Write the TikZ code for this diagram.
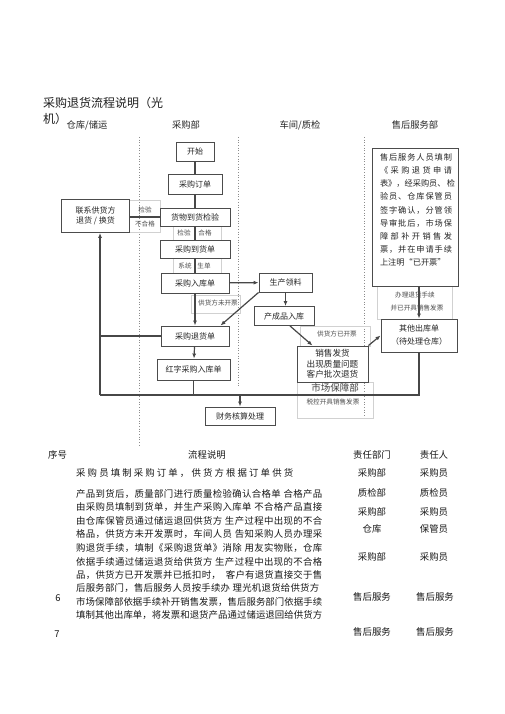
\documentclass[tikz,border=0pt]{standalone}
\usepackage{fontspec}
\setmainfont{Noto Sans CJK SC}
\usetikzlibrary{arrows.meta}
\makeatletter
\def\spr@aux#1{\ifx#1\relax\else#1\hfil\expandafter\spr@aux\fi}
\newcommand\spreadto[2]{\makebox[#1][s]{\spr@aux#2\relax\unskip}}
\makeatother
\begin{document}
\begin{tikzpicture}[x=1pt,y=-1pt,
  box/.style={draw=black!70, line width=0.9pt, fill=white, text=black!85, font=\fontsize{8}{10}\selectfont, align=center, inner sep=1pt},
  lbox/.style={draw=black!18, line width=0.5pt},
  lbl/.style={text=black!70, font=\fontsize{6.6}{8}\selectfont, inner sep=0.5pt},
  conn/.style={draw=black!72, line width=1.2pt},
  vconn/.style={draw=black!72, line width=1.6pt},
  arr/.style={conn, -{Latex[length=5pt,width=4pt]}},
  lane/.style={draw=black!45, dotted, line width=0.7pt},
  hdr/.style={text=black!85, font=\fontsize{9.3}{11}\selectfont, inner sep=0},
  tbl/.style={text=black!90, font=\fontsize{9.4}{11}\selectfont, inner sep=0},
]
\useasboundingbox (0,0) rectangle (505,714);
\fill[white] (0,0) rectangle (505,714);

% title
\node[text=black!88, font=\fontsize{12}{14}\selectfont, inner sep=0, anchor=west] (t1) at (43,103) {采购退货流程说明（光};
\node[text=black!88, font=\fontsize{12}{14}\selectfont, inner sep=0, anchor=west] (t2) at (43,119) {机）};

% lane headers
\node[hdr] (h1) at (87,125) {仓库/储运};
\node[hdr] (h2) at (186,125) {采购部};
\node[hdr] (h3) at (300,125) {车间/质检};
\node[hdr] (h4) at (415,125) {售后服务部};

% lane separators
\draw[lane] (139,137) -- (139,445);
\draw[lane] (238,137) -- (238,388);
\draw[lane] (364,137) -- (364,418);

% light label frames
\draw[lbox] (129,200) rectangle (160,232);
\draw[lbox] (173,226) rectangle (221,240);
\draw[lbox] (173,258) rectangle (221,273);
\draw[lbox] (191,295) rectangle (240,313);
\draw[lbox] (300,326) rectangle (370,346);
\draw[lbox] (377,286) rectangle (452,319);
\draw[lbox] (297,382) rectangle (373,418);

% labels
\node[lbl] (l1) at (145,209.5) {检验};
\node[lbl] (l2) at (145,223.5) {不合格};
\node[lbl] (l3) at (184,233) {检验};
\node[lbl] (l4) at (205,233) {合格};
\node[lbl] (l5) at (185,265.5) {系统};
\node[lbl] (l6) at (204,265.5) {生单};
\node[lbl] (l7) at (218,303) {供货方未开票};
\node[lbl] (l8) at (337,334) {供货方已开票};
\node[lbl] (l9) at (415,295) {办理退货手续};
\node[lbl] (l10) at (417,308) {并已开具销售发票};
\node[text=black!75, font=\fontsize{9.5}{11}\selectfont, inner sep=0] (l11) at (335,388) {市场保障部};
\node[lbl] (l12) at (333,402) {税控开具销售发票};

% boxes
\node[box, minimum width=38pt, minimum height=19pt] (start) at (195,151.5) {开始};
\node[box, minimum width=54pt, minimum height=20pt] (order) at (195,184) {采购订单};
\node[box, minimum width=70pt, minimum height=18pt] (inspect) at (195,217) {货物到货检验};
\node[box, minimum width=68pt, minimum height=33pt] (contact) at (95.5,216) {联系供货方\\退货 / 换货};
\node[box, minimum width=70pt, minimum height=18pt] (arrival) at (195,249) {采购到货单};
\node[box, minimum width=68pt, minimum height=20pt] (instock) at (195,283) {采购入库单};
\node[box, minimum width=53pt, minimum height=19pt] (material) at (285.5,282.5) {生产领料};
\node[box, minimum width=60pt, minimum height=19pt] (product) at (284,316) {产成品入库};
\node[box, minimum width=68pt, minimum height=20pt] (retbill) at (195,336) {采购退货单};
\node[box, minimum width=73pt, minimum height=21pt] (redbill) at (193.5,369.5) {红字采购入库单};
\node[box, minimum width=71pt, minimum height=36pt, font=\fontsize{8.6}{10.6}\selectfont] (sales) at (332.5,364) {销售发货\\出现质量问题\\客户批次退货};
\node[box, minimum width=76pt, minimum height=33pt, font=\fontsize{8}{13}\selectfont] (other) at (419,335.5) {其他出库单\\（待处理仓库）};
\node[box, minimum width=70pt, minimum height=18pt] (finance) at (240,416) {财务核算处理};
\node[box, minimum width=86pt, minimum height=138pt] (svc) at (415,217) {};
\node[text=black!85, font=\fontsize{8.2}{13.1}\selectfont, align=left, inner sep=0] (svct) at (416,210) {%
\spreadto{72pt}{售后服务人员填制}\\
\spreadto{72pt}{《采购退货申请}\\
\spreadto{72pt}{表》，经采购员、~检}\\
\spreadto{72pt}{验员、仓库保管员}\\
\spreadto{72pt}{签字确认，分管领}\\
\spreadto{72pt}{导审批后，市场保}\\
\spreadto{72pt}{障部补开销售发}\\
\spreadto{72pt}{票，并在申请手续}\\
上注明“已开票”};

% connectors
\draw[vconn] (start) -- (order);
\draw[vconn] (order) -- (inspect);
\draw[vconn] (inspect) -- (arrival);
\draw[vconn] (arrival) -- (instock);
\draw[conn] (inspect.west) -- (inspect.west -| contact.east);
\draw[arr] (instock) -- (material);
\draw[arr] (instock) -- (retbill);
\draw[arr] (material) -- (material |- product.north);
\draw[arr] (material.south west) -- ([xshift=-9pt]retbill.north east);
\draw[arr] ([xshift=6pt]product.south) -- ([xshift=-20pt]sales.north);
\draw[arr] (sales.north east) -- (other.west);
\draw[arr] (other.north |- svc.south) -- (other.north);
\draw[arr] (retbill) -- (redbill);
\coordinate (bl) at (100,395);
\draw[conn] (other.south) |- (bl);
\draw[arr] (bl) -- (bl |- contact.south);
\draw[conn] (retbill.west) -- (retbill.west -| bl);
\draw[conn] (redbill.south) -- (redbill.south |- bl);
\draw[arr] (finance.north |- bl) -- (finance.north);

% table
\node[tbl, anchor=west] (c0) at (48,455) {序号};
\node[tbl] (c1) at (207,455) {流程说明};
\node[tbl] (c2) at (372,455) {责任部门};
\node[tbl] (c3) at (434,455) {责任人};

\node[tbl, anchor=west] (p0) at (76,473) {\spreadto{217pt}{采购员填制采购订单，供货方根据订单供货}};
\node[tbl, anchor=west] (p1) at (76,494) {\spreadto{246pt}{产品到货后，质量部门进行质量检验确认合格单~合格产品}};
\node[tbl, anchor=west] (p2) at (76,507.5) {\spreadto{246pt}{由采购员填制到货单，并生产采购入库单~不合格产品直接}};
\node[tbl, anchor=west] (p3) at (76,521) {\spreadto{246pt}{由仓库保管员通过储运退回供货方~生产过程中出现的不合}};
\node[tbl, anchor=west] (p4) at (76,534.5) {\spreadto{246pt}{格品，供货方未开发票时，车间人员~告知采购人员办理采}};
\node[tbl, anchor=west] (p5) at (76,548) {\spreadto{246pt}{购退货手续，填制《采购退货单》消除~用友实物账，仓库}};
\node[tbl, anchor=west] (p6) at (76,561.5) {\spreadto{246pt}{依据手续通过储运退货给供货方~生产过程中出现的不合格}};
\node[tbl, anchor=west] (p7) at (76,575) {\spreadto{246pt}{品，供货方已开发票并已抵扣时，~~客户有退货直接交于售}};
\node[tbl, anchor=west] (p8) at (76,588.5) {\spreadto{243pt}{后服务部门，售后服务人员按手续办~理光机退货给供货方}};
\node[tbl, anchor=west] (p9) at (76,602) {\spreadto{246pt}{市场保障部依据手续补开销售发票，售后服务部门依据手续}};
\node[tbl, anchor=west] (p10) at (76,615.5) {\spreadto{246pt}{填制其他出库单，将发票和退货产品通过储运退回给供货方}};

\node[tbl] (n6) at (58,598) {6};
\node[tbl] (n7) at (57,634) {7};

\node[tbl] (d1) at (372,473) {采购部};
\node[tbl] (d2) at (372,493) {质检部};
\node[tbl] (d3) at (372,512) {采购部};
\node[tbl] (d4) at (372,529) {仓库};
\node[tbl] (d5) at (372,557) {采购部};
\node[tbl] (d6) at (372,597) {售后服务};
\node[tbl] (d7) at (372,632) {售后服务};
\node[tbl] (r1) at (434,473) {采购员};
\node[tbl] (r2) at (434,493) {质检员};
\node[tbl] (r3) at (434,512) {采购员};
\node[tbl] (r4) at (434,529) {保管员};
\node[tbl] (r5) at (434,557) {采购员};
\node[tbl] (r6) at (435,597) {售后服务};
\node[tbl] (r7) at (435,632) {售后服务};
\end{tikzpicture}
\end{document}
